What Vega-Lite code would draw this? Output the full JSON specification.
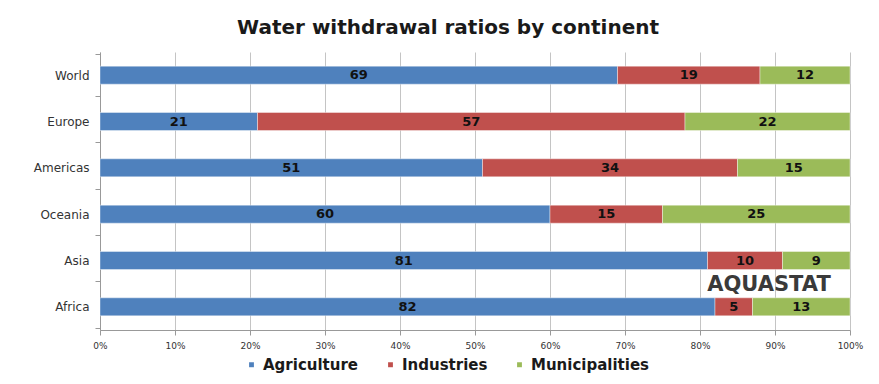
{
  "$schema": "https://vega.github.io/schema/vega-lite/v6.json",
  "width": 750,
  "height": 278,
  "autosize": {"type": "pad"},
  "padding": {"left": 33, "top": 18, "right": 20, "bottom": 8},
  "background": "white",
  "title": {"text": "Water withdrawal ratios by continent", "font": "DejaVu Sans", "fontSize": 20, "fontWeight": "bold", "color": "#1a1a1a", "frame": "bounds", "anchor": "middle", "offset": 8},
  "config": {"view": {"stroke": null}},
  "encoding": {
    "y": {"field": "continent", "type": "nominal", "sort": ["World", "Europe", "Americas", "Oceania", "Asia", "Africa"], "title": null,
      "axis": {"tickBand": "extent", "domainColor": "#999999", "tickColor": "#999999", "tickSize": 5, "labelFont": "DejaVu Sans", "labelFontSize": 12, "labelColor": "#333333", "labelPadding": 6}}
  },
  "layer": [
    {
      "data": {"values": [
        {"continent": "World", "category": "Agriculture", "value": 69},
        {"continent": "World", "category": "Industries", "value": 19},
        {"continent": "World", "category": "Municipalities", "value": 12},
        {"continent": "Europe", "category": "Agriculture", "value": 21},
        {"continent": "Europe", "category": "Industries", "value": 57},
        {"continent": "Europe", "category": "Municipalities", "value": 22},
        {"continent": "Americas", "category": "Agriculture", "value": 51},
        {"continent": "Americas", "category": "Industries", "value": 34},
        {"continent": "Americas", "category": "Municipalities", "value": 15},
        {"continent": "Oceania", "category": "Agriculture", "value": 60},
        {"continent": "Oceania", "category": "Industries", "value": 15},
        {"continent": "Oceania", "category": "Municipalities", "value": 25},
        {"continent": "Asia", "category": "Agriculture", "value": 81},
        {"continent": "Asia", "category": "Industries", "value": 10},
        {"continent": "Asia", "category": "Municipalities", "value": 9},
        {"continent": "Africa", "category": "Agriculture", "value": 82},
        {"continent": "Africa", "category": "Industries", "value": 5},
        {"continent": "Africa", "category": "Municipalities", "value": 13}
      ]},
      "transform": [
        {"stack": "value", "groupby": ["continent"], "sort": [{"field": "category", "order": "ascending"}], "offset": "normalize", "as": ["x0", "x1"]},
        {"calculate": "(datum.x0 + datum.x1) / 2", "as": "mid"}
      ],
      "layer": [
        {
          "mark": {"type": "bar", "size": 18, "stroke": "#ffffff", "strokeOpacity": 0.4, "strokeWidth": 1},
          "encoding": {
            "x": {"field": "x0", "type": "quantitative", "scale": {"domain": [0, 1]}, "title": null,
              "axis": {"format": ".0%", "values": [0, 0.1, 0.2, 0.3, 0.4, 0.5, 0.6, 0.7, 0.8, 0.9, 1], "grid": true, "gridColor": "#c4c4c4", "domainColor": "#999999", "tickColor": "#999999", "tickSize": 5, "labelFont": "DejaVu Sans", "labelFontSize": 9, "labelColor": "#333333", "labelFlush": false, "labelPadding": 6}},
            "x2": {"field": "x1"},
            "color": {"field": "category", "type": "nominal", "scale": {"domain": ["Agriculture", "Industries", "Municipalities"], "range": ["#4f81bd", "#c0504d", "#9bbb59"]},
              "legend": {"orient": "none", "legendX": 144, "legendY": 305, "direction": "horizontal", "title": null, "symbolType": "square", "symbolSize": 40, "labelFont": "DejaVu Sans", "labelFontSize": 15, "labelFontWeight": "bold", "labelColor": "#1a1a1a", "columnPadding": 24, "labelOffset": 4}}
          }
        },
        {
          "mark": {"type": "text", "font": "DejaVu Sans", "fontWeight": "bold", "fontSize": 13, "color": "#111111"},
          "encoding": {
            "x": {"field": "mid", "type": "quantitative"},
            "text": {"field": "value", "type": "quantitative"}
          }
        }
      ]
    },
    {
      "data": {"values": [{}]},
      "mark": {"type": "text", "font": "DejaVu Sans", "fontWeight": "bold", "fontSize": 21, "color": "#3a3a3a", "dy": -22},
      "encoding": {
        "x": {"datum": 0.892, "type": "quantitative"},
        "y": {"datum": "Africa"},
        "text": {"value": "AQUASTAT"}
      }
    }
  ]
}
